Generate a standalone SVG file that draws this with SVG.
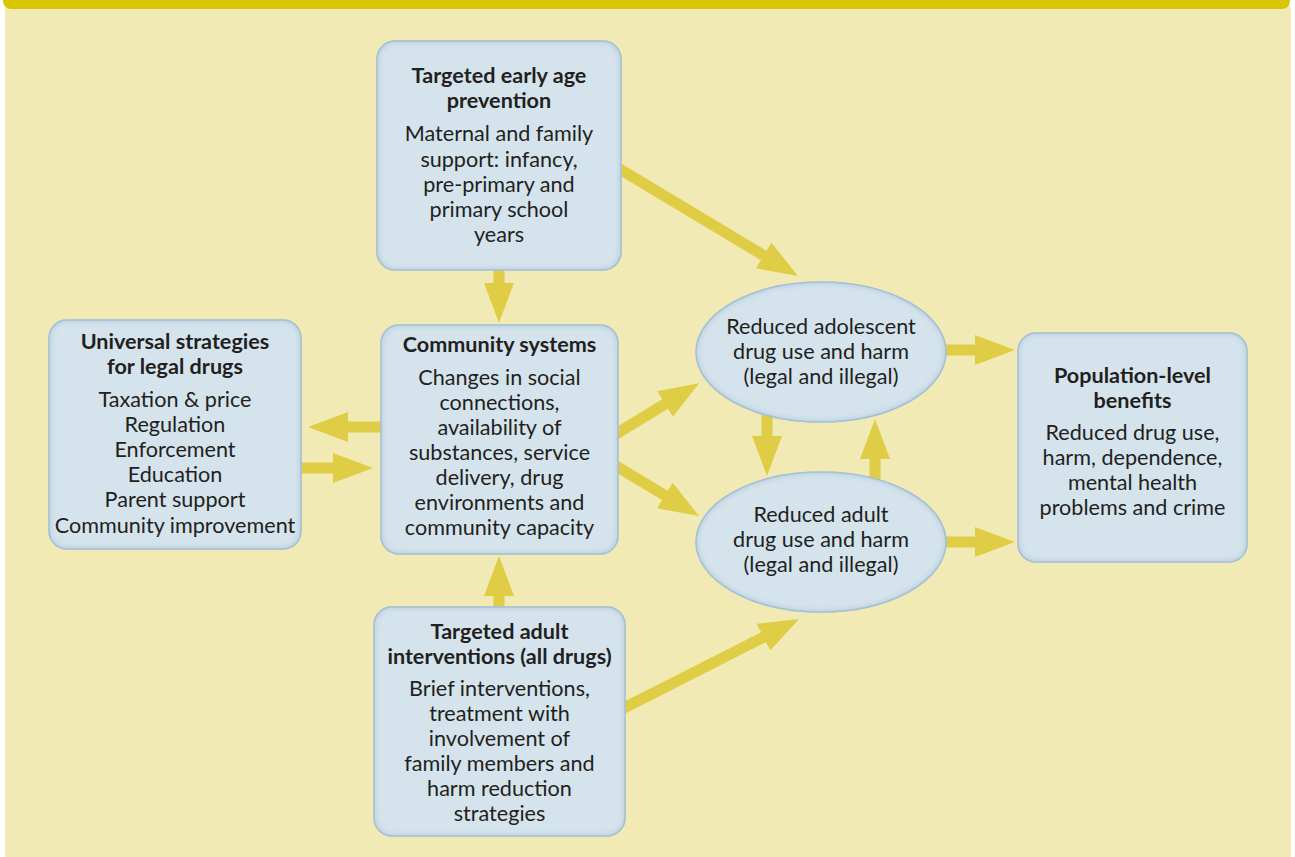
<svg xmlns="http://www.w3.org/2000/svg" width="1295" height="857" viewBox="0 0 1295 857">
<defs>
<filter id="inner" x="-5%" y="-5%" width="110%" height="110%">
<feFlood flood-color="#98b7cd" result="f"/>
<feComposite in="f" in2="SourceAlpha" operator="out" result="o"/>
<feGaussianBlur in="o" stdDeviation="3.5" result="b"/>
<feComposite in="b" in2="SourceAlpha" operator="in" result="s"/>
<feMerge><feMergeNode in="SourceGraphic"/><feMergeNode in="s"/></feMerge>
</filter>
<marker id="ah" markerUnits="userSpaceOnUse" markerWidth="40" markerHeight="30" refX="2" refY="15" orient="auto">
<path d="M0,0 L40,15 L0,30 Z" fill="#E0CD46"/>
</marker>
</defs>
<style>
.node{fill:#D4E3EC;stroke:#AFC8D9;stroke-width:1.5;filter:url(#inner)}
.t{font-family:Lato,"Open Sans","Liberation Sans",sans-serif;font-size:21.6px;fill:#231F20;text-anchor:middle}
.b{font-weight:bold}
.c line{stroke:#E0CD46;stroke-width:11;marker-end:url(#ah)}
</style>
<rect x="5" y="0" width="1286" height="880" rx="10" fill="#F2EAB4"/>
<rect x="3" y="-20" width="1287" height="29" rx="8" fill="#D8C700"/>
<g id="connectors" class="c">
<line x1="499" y1="268" x2="499" y2="285"/>
<line x1="618" y1="168" x2="765.4" y2="256.5"/>
<line x1="383" y1="427" x2="346" y2="427"/>
<line x1="299" y1="468" x2="335" y2="468"/>
<line x1="616" y1="434" x2="666.7" y2="403"/>
<line x1="616" y1="466" x2="666.5" y2="496.4"/>
<line x1="767" y1="415" x2="767" y2="438"/>
<line x1="875" y1="481" x2="875" y2="457"/>
<line x1="944" y1="350" x2="977" y2="350"/>
<line x1="944" y1="542" x2="977" y2="542"/>
<line x1="499" y1="609" x2="499" y2="594"/>
<line x1="622" y1="709" x2="765.2" y2="636.3"/>
</g>
<g id="early">
<rect class="node" x="377" y="41" width="244" height="229" rx="18"/>
<text class="t b" x="499" y="83">Targeted early age</text>
<text class="t b" x="499" y="108">prevention</text>
<text class="t" x="499" y="141">Maternal and family</text>
<text class="t" x="499" y="167">support: infancy,</text>
<text class="t" x="499" y="192">pre-primary and</text>
<text class="t" x="499" y="217">primary school</text>
<text class="t" x="499" y="242">years</text>
</g>
<g id="universal">
<rect class="node" x="49" y="320" width="252" height="229" rx="18"/>
<text class="t b" x="175" y="349">Universal strategies</text>
<text class="t b" x="175" y="374">for legal drugs</text>
<text class="t" x="175" y="407">Taxation &amp; price</text>
<text class="t" x="175" y="432">Regulation</text>
<text class="t" x="175" y="457">Enforcement</text>
<text class="t" x="175" y="482">Education</text>
<text class="t" x="175" y="507">Parent support</text>
<text class="t" x="175" y="533">Community improvement</text>
</g>
<g id="community">
<rect class="node" x="381" y="325" width="237" height="229" rx="18"/>
<text class="t b" x="499.5" y="352">Community systems</text>
<text class="t" x="499.5" y="385">Changes in social</text>
<text class="t" x="499.5" y="410">connections,</text>
<text class="t" x="499.5" y="435">availability of</text>
<text class="t" x="499.5" y="460">substances, service</text>
<text class="t" x="499.5" y="485">delivery, drug</text>
<text class="t" x="499.5" y="510">environments and</text>
<text class="t" x="499.5" y="535">community capacity</text>
</g>
<g id="adult">
<rect class="node" x="374" y="607" width="251" height="229" rx="18"/>
<text class="t b" x="499.5" y="639">Targeted adult</text>
<text class="t b" x="499.5" y="664">interventions (all drugs)</text>
<text class="t" x="499.5" y="696">Brief interventions,</text>
<text class="t" x="499.5" y="721">treatment with</text>
<text class="t" x="499.5" y="746">involvement of</text>
<text class="t" x="499.5" y="771">family members and</text>
<text class="t" x="499.5" y="796">harm reduction</text>
<text class="t" x="499.5" y="821">strategies</text>
</g>
<g id="adolescent-outcome">
<ellipse class="node" cx="821" cy="352" rx="125" ry="70"/>
<text class="t" x="821" y="334">Reduced adolescent</text>
<text class="t" x="821" y="359">drug use and harm</text>
<text class="t" x="821" y="384">(legal and illegal)</text>
</g>
<g id="adult-outcome">
<ellipse class="node" cx="821" cy="542" rx="125" ry="70"/>
<text class="t" x="821" y="522">Reduced adult</text>
<text class="t" x="821" y="547">drug use and harm</text>
<text class="t" x="821" y="572">(legal and illegal)</text>
</g>
<g id="population">
<rect class="node" x="1018" y="333" width="229" height="229" rx="18"/>
<text class="t b" x="1132.5" y="383">Population-level</text>
<text class="t b" x="1132.5" y="408">benefits</text>
<text class="t" x="1132.5" y="440">Reduced drug use,</text>
<text class="t" x="1132.5" y="465">harm, dependence,</text>
<text class="t" x="1132.5" y="490">mental health</text>
<text class="t" x="1132.5" y="515">problems and crime</text>
</g>
</svg>
